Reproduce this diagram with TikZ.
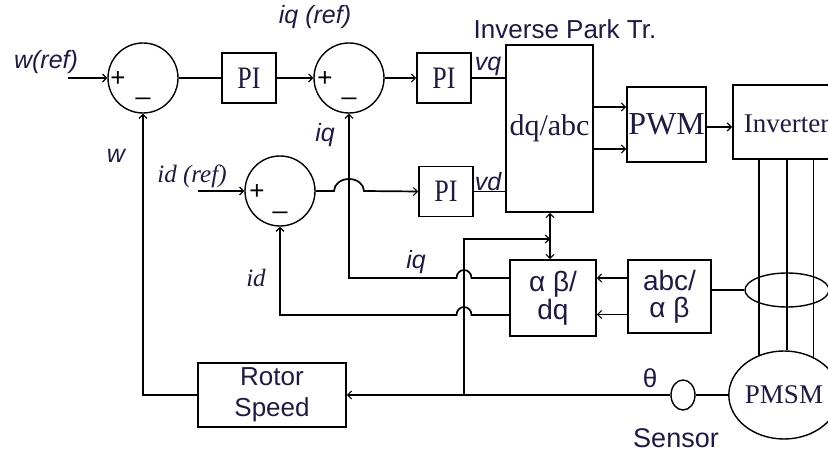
\documentclass[tikz,border=0pt]{standalone}
\usepackage{fontspec}
\setmainfont{Liberation Serif}
\setsansfont{Liberation Sans}
\usetikzlibrary{arrows.meta,shapes.geometric,calc}
\definecolor{txt}{RGB}{30,25,70}
\begin{document}
\begin{tikzpicture}[x=1pt,y=-1pt,
  line width=1.7pt,
  arr/.style={-{Straight Barb[length=4pt,width=8pt,line width=1.1pt]}},
  blk/.style={draw, inner sep=0pt, text=txt},
  sumc/.style={draw, circle, minimum size=70pt, inner sep=0pt, line width=1.4pt},
  lab/.style={text=txt, inner sep=0pt},
  pibox/.style={blk, minimum width=54pt, minimum height=50pt, font=\fontsize{26}{30}\selectfont},
  sign/.style={text=black, inner sep=0pt, font=\sffamily\fontsize{26}{30}\selectfont},
  itl/.style={lab, font=\sffamily\itshape\fontsize{25}{30}\selectfont},
  itser/.style={lab, font=\itshape\fontsize{25}{30}\selectfont}
]
\useasboundingbox (0,0) rectangle (828,454);
\clip (0,0) rectangle (828,454);

% nodes
\node[sumc] (s1) at (143,78) {};
\node[pibox] (pi1) at (249,78) {\scalebox{1}[1.2]{PI}};
\node[sumc] (s2) at (349,78) {};
\node[pibox] (pi2) at (444,78) {\scalebox{1}[1.2]{PI}};
\node[blk, minimum width=87pt, minimum height=167pt, font=\fontsize{30}{34}\selectfont] (dq) at (549.5,128.5) {dq/abc};
\node[blk, minimum width=79pt, minimum height=75pt, font=\fontsize{32}{36}\selectfont] (pwm) at (666.5,124.5) {PWM};
\node[blk, minimum width=140pt, minimum height=74pt, anchor=west] (inv) at (732,122) {};
\node[lab, anchor=base west, font=\fontsize{27}{31}\selectfont] (invt) at (743,133) {Inverter};
\node[sumc] (s3) at (280,191) {};
\node[pibox] (pi3) at (446,191.5) {\scalebox{1}[1.2]{PI}};
\node[blk, minimum width=86pt, minimum height=76pt, align=center, font=\sffamily\fontsize{28}{28}\selectfont] (ab) at (553,298) {α β/\\dq};
\node[blk, minimum width=83pt, minimum height=73pt, align=center, font=\sffamily\fontsize{28}{27}\selectfont] (abc) at (669.5,296.5) {abc/\\α β};
\node[draw, ellipse, minimum width=84pt, minimum height=34pt, inner sep=0pt, line width=1.4pt] (ct) at (787,290) {};
\node[draw, ellipse, minimum width=96pt, minimum height=88pt, inner sep=0pt, line width=1.4pt, text=txt, font=\fontsize{27}{31}\selectfont] (pmsm) at (784,395) {PMSM};
\node[draw, ellipse, minimum width=24pt, minimum height=30pt, inner sep=0pt, line width=1.4pt] (sen) at (683,395) {};
\node[blk, minimum width=148pt, minimum height=64pt, align=center, font=\sffamily\fontsize{26}{31}\selectfont] (rs) at (272,395) {Rotor\\Speed};

% signs
\node[sign] (p1) at ([xshift=-25pt,yshift=-1pt]s1.center) {+};
\node[sign, anchor=base] (m1) at ([yshift=-17pt]s1.center) {\_};
\node[sign] (p2) at ([xshift=-24pt,yshift=-1pt]s2.center) {+};
\node[sign, anchor=base] (m2) at ([yshift=-17pt]s2.center) {\_};
\node[sign] (p3) at ([xshift=-23pt,yshift=-1pt]s3.center) {+};
\node[sign, anchor=base] (m3) at ([yshift=-18pt]s3.center) {\_};

% labels
\node[itl] (lwref) at (46,62) {w(ref)};
\node[itl] (liqref) at (315,17) {iq (ref)};
\node[lab, font=\sffamily\fontsize{26}{30}\selectfont] (lipt) at (565,29) {Inverse Park Tr.};
\node[itl] (lvq) at (488,66) {vq};
\node[itl] (lvd) at (488,182) {vd};
\node[itl] (liq1) at (325,135) {iq};
\node[itl] (lw) at (116,156) {w};
\node[itser] (lidref) at (192,176) {id (ref)};
\node[itser] (lid) at (256,278) {id};
\node[itl] (liq2) at (416,262) {iq};
\node[lab, font=\sffamily\fontsize{26}{30}\selectfont] (lth) at (650,378) {θ};
\node[lab, font=\sffamily\fontsize{27}{30}\selectfont] (lsen) at (676,438) {Sensor};

% coordinates
\coordinate (win) at (68,78);
\coordinate (idin) at (198,191);
\coordinate (j1) at (464,395);
\coordinate (j2) at (550,239);

% forward path
\draw[arr] (win) -- (s1.west);
\draw (s1.east) -- (pi1.west);
\draw[arr] (pi1.east) -- (s2.west);
\draw[arr] (s2.east) -- (pi2.west);
\draw (pi2.east) -- (pi2.east -| dq.west);
\draw[arr] (idin) -- (s3.west);
\coordinate (hd) at (s3.east -| s2.south);
\draw[arr] (s3.east) -- ([xshift=-15pt]hd) arc[start angle=180, end angle=0, x radius=15pt, y radius=12pt] -- (pi3.west);
\draw (pi3.east) -- (pi3.east -| dq.west);
\draw[arr] ([yshift=21.5pt]dq.east) -- ([yshift=21.5pt]dq.east -| pwm.west);
\draw[arr] ([yshift=-20.5pt]dq.east) -- ([yshift=-20.5pt]dq.east -| pwm.west);
\draw[arr] ([yshift=-2.5pt]pwm.east) -- ([yshift=-2.5pt]pwm.east -| inv.west);

% inverter to motor
\draw (pmsm.122 |- inv.south) -- (pmsm.122);
\draw (pmsm.86 |- inv.south) -- (pmsm.86);
\draw (pmsm.52 |- inv.south) -- (pmsm.52);
\draw (ct.west) -- (ct.west -| abc.east);

% clarke to park
\draw[arr] ([yshift=18.5pt]abc.west) -- ([yshift=18.5pt]abc.west -| ab.east);
\draw[arr] ([yshift=-18pt]abc.west) -- ([yshift=-18pt]abc.west -| ab.east);

% current feedbacks
\coordinate (iqp) at ([yshift=20pt]ab.west);
\coordinate (idp) at ([yshift=-17pt]ab.west);
\coordinate (hq) at (iqp -| j1);
\coordinate (hid) at (idp -| j1);
\draw[arr] (iqp) -- ([xshift=7.5pt]hq) arc[start angle=0, end angle=180, x radius=7.5pt, y radius=8pt] -- (iqp -| s2.south) -- (s2.south);
\draw[arr] (idp) -- ([xshift=7.5pt]hid) arc[start angle=0, end angle=180, x radius=7.5pt, y radius=8pt] -- (idp -| s3.south) -- (s3.south);

% speed / angle
\draw[arr] (rs.west) -| (s1.south);
\draw (pmsm.west) -- (sen.east);
\draw[arr] (sen.west) -- (rs.east);
\draw[arr] (j1) |- (j2);
\draw[arr] (j2) -- (j2 |- dq.south);
\draw[arr] (j2) -- (j2 |- ab.north);
\end{tikzpicture}
\end{document}
